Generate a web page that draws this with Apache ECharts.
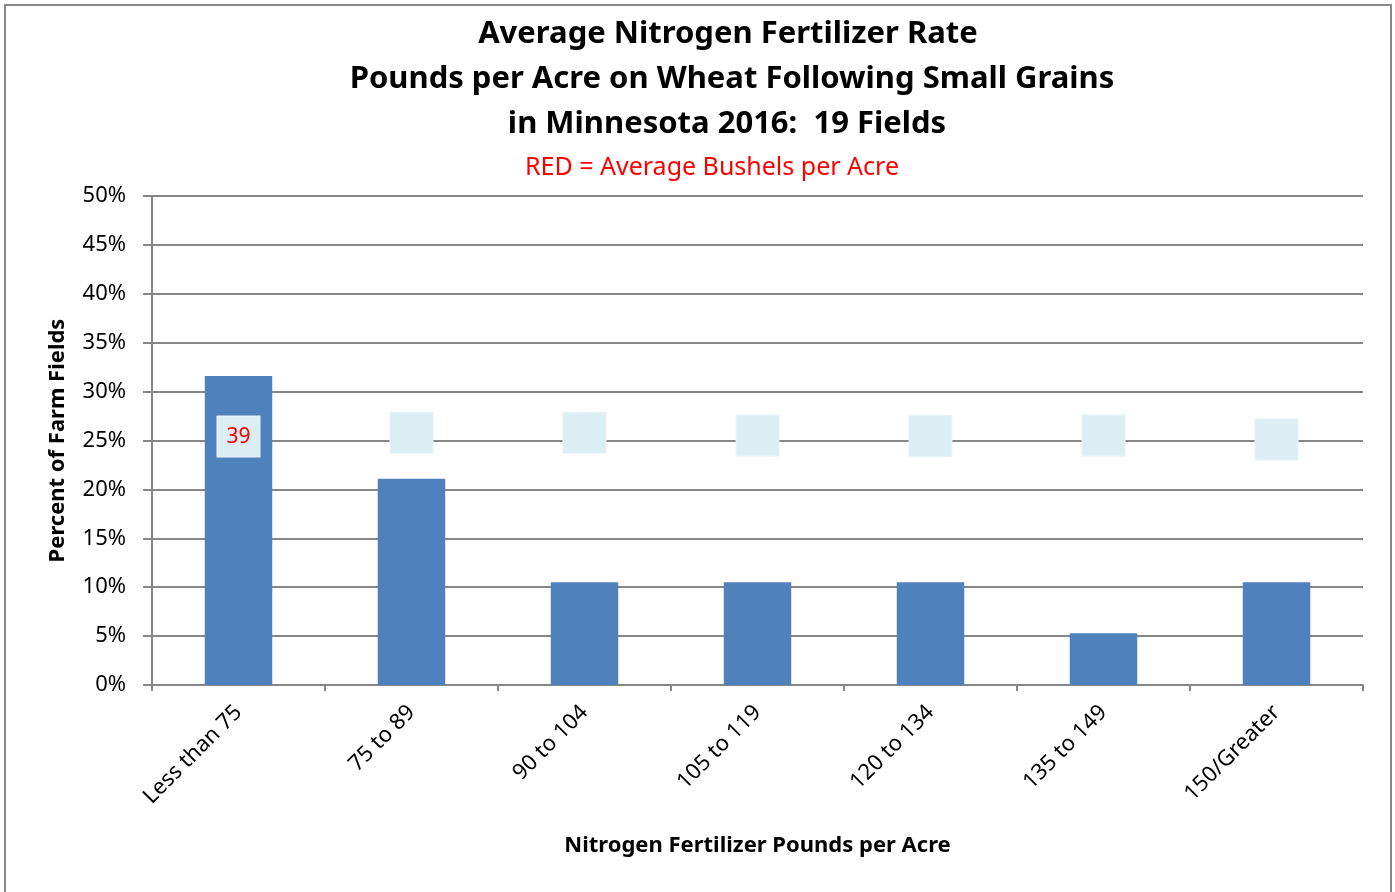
<!DOCTYPE html>
<html>
<head>
<meta charset="utf-8">
<script src="https://cdn.jsdelivr.net/npm/echarts@6/dist/echarts.min.js"></script>
<style>
html,body{margin:0;padding:0;background:#fff;}
#chart{width:1395px;height:892px;}
</style>
</head>
<body>
<div id="chart"></div>
<script>
var categories = ['Less than 75', '75 to 89', '90 to 104', '105 to 119', '120 to 134', '135 to 149', '150/Greater'];
var percentFields = [31.6, 21.1, 10.5, 10.5, 10.5, 5.3, 10.5];
var boxPositions = [25.4, 25.8, 25.8, 25.5, 25.45, 25.5, 25.1];
var bushelLabels = ['39', '', '', '', '', '', ''];
var yTicks = { min: 0, max: 50, interval: 5 };

var font = '"Noto Sans", "Open Sans", sans-serif';
var chart = echarts.init(document.getElementById('chart'), null, { renderer: 'canvas' });

chart.setOption({
  animation: false,
  backgroundColor: '#ffffff',
  title: [
    { text: 'Average Nitrogen Fertilizer Rate', left: 723, top: 14, textAlign: 'center',
      textStyle: { fontFamily: font, fontSize: 31, fontWeight: 'bold', color: '#000' } },
    { text: 'Pounds per Acre on Wheat Following Small Grains', left: 727, top: 59, textAlign: 'center',
      textStyle: { fontFamily: font, fontSize: 31, fontWeight: 'bold', color: '#000' } },
    { text: 'in Minnesota 2016:  19 Fields', left: 722, top: 104, textAlign: 'center',
      textStyle: { fontFamily: font, fontSize: 31, fontWeight: 'bold', color: '#000' } },
    { text: 'RED = Average Bushels per Acre', left: 707, top: 150, textAlign: 'center',
      textStyle: { fontFamily: font, fontSize: 25, fontWeight: 'normal', color: '#ff0000' } }
  ],
  graphic: [
    { type: 'rect', shape: { x: 5, y: 5, width: 1386, height: 900 },
      style: { fill: 'none', stroke: '#898989', lineWidth: 2 }, z: 0 }
  ],
  grid: { left: 152, right: 32, top: 196, bottom: 207 },
  xAxis: {
    type: 'category',
    data: categories,
    name: 'Nitrogen Fertilizer Pounds per Acre',
    nameLocation: 'middle',
    nameGap: 150,
    nameTextStyle: { fontFamily: font, fontSize: 22, fontWeight: 'bold', color: '#000' },
    axisLine: { lineStyle: { color: '#868686', width: 2 } },
    axisTick: { show: true, length: 6, lineStyle: { color: '#868686', width: 2 } },
    axisLabel: { rotate: 45, margin: 24, fontFamily: font, fontSize: 22, color: '#000' }
  },
  yAxis: {
    type: 'value',
    min: yTicks.min, max: yTicks.max, interval: yTicks.interval,
    name: 'Percent of Farm Fields',
    nameLocation: 'middle',
    nameGap: 83,
    nameTextStyle: { fontFamily: font, fontSize: 22, fontWeight: 'bold', color: '#000' },
    axisLine: { show: true, lineStyle: { color: '#868686', width: 2 } },
    axisTick: { show: true, length: 9, lineStyle: { color: '#868686', width: 2 } },
    axisLabel: { formatter: '{value}%', margin: 26, fontFamily: font, fontSize: 22, color: '#000' },
    splitLine: { show: true, lineStyle: { color: '#868686', width: 2 } }
  },
  series: [
    {
      type: 'bar',
      data: percentFields,
      barWidth: '39%',
      itemStyle: { color: '#4f81bd' },
      z: 2
    },
    {
      type: 'scatter',
      data: boxPositions,
      symbol: 'rect',
      symbolSize: [43, 41],
      itemStyle: { color: '#daeef3', borderColor: '#e8f4f8', borderWidth: 1, opacity: 1 },
      label: {
        show: true,
        position: 'inside',
        formatter: function (p) { return bushelLabels[p.dataIndex]; },
        fontFamily: font, fontSize: 21, color: '#ff0000'
      },
      z: 3
    }
  ]
});
</script>
</body>
</html>
